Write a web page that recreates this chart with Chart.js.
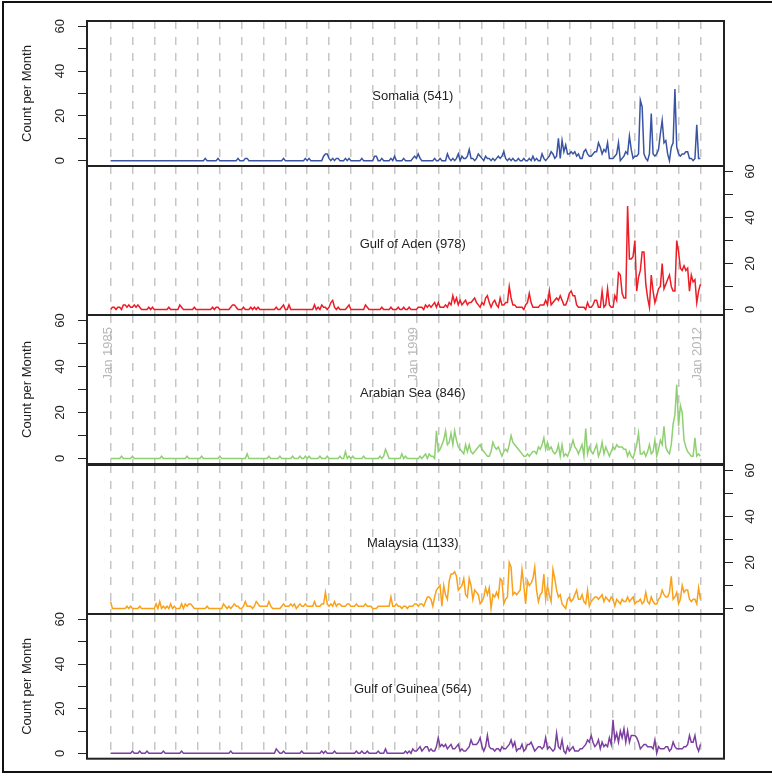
<!DOCTYPE html>
<html>
<head>
<meta charset="utf-8">
<script src="https://cdn.jsdelivr.net/npm/chart.js@4.4.1/dist/chart.umd.min.js"></script>
<style>
  html, body { margin: 0; padding: 0; background: #fff; overflow: hidden; }
  #wrap { position: relative; width: 772px; height: 777px; overflow: hidden; }
  #wrap canvas { position: absolute; left: 0; top: 0; }
  #frame { position: absolute; left: 2px; top: 1px; width: 900px; height: 772px; border: 2px solid #111; box-sizing: border-box; }
</style>
</head>
<body>
<div id="wrap"><div id="frame"></div></div>
<script>
// monthly counts, Jan 1985 .. Jan 2012 (one row per year)
const somalia = [
  0,0,0,0,0,0,0,0,0,0,0,0,
  0,0,0,0,0,0,0,0,0,0,0,0,
  0,0,0,0,0,0,0,0,0,0,0,0,
  0,0,0,0,0,0,0,0,0,0,0,0,
  0,0,0,0,1,0,0,0,0,0,0,1,
  0,0,0,0,0,0,0,0,0,0,1,0,
  0,0,1,1,0,0,0,0,0,0,0,0,
  0,0,0,0,0,0,0,0,0,0,0,1,
  0,0,0,0,0,0,0,0,0,0,0,1,
  0,1,0,0,0,0,0,0,0,2,3,3,
  1,0,1,0,1,1,0,0,0,1,0,1,
  0,0,0,0,0,0,1,0,0,0,0,0,
  0,2,2,0,0,1,0,0,0,0,1,0,
  2,0,0,0,0,1,0,0,0,0,1,2,
  1,3,1,0,0,0,0,0,0,0,1,0,
  0,1,0,0,0,3,1,0,1,0,1,3,
  0,2,1,1,2,5,1,1,0,1,3,2,
  1,0,2,1,1,0,1,0,1,2,1,2,
  4,1,0,1,0,1,0,0,1,0,0,1,
  0,0,1,0,2,0,1,0,0,3,1,0,
  1,2,4,3,1,2,10,1,9,4,7,3,
  3,4,3,4,2,3,1,1,4,5,3,2,
  2,3,4,4,8,6,3,5,4,8,1,1,
  1,2,3,8,0,1,2,4,3,11,5,1,
  2,2,3,27,24,3,1,0,3,21,3,2,
  3,5,12,18,8,9,3,0,6,8,32,6,
  3,2,3,3,4,4,1,1,0,1,16,1,
  1
];

const gulfOfAden = [
  0,1,1,0,1,1,0,2,2,1,2,1,
  1,2,1,2,1,0,0,0,0,1,0,1,
  0,0,0,0,0,0,0,0,1,0,0,0,
  0,0,2,1,0,0,0,0,0,0,1,0,
  0,0,0,0,0,0,0,0,1,0,1,1,
  0,0,0,0,0,0,1,2,2,1,0,0,
  0,1,0,0,0,1,0,1,0,1,0,0,
  0,0,0,0,0,0,0,1,0,0,1,2,
  0,0,2,0,0,0,0,0,0,0,0,0,
  0,0,0,0,2,0,1,0,2,1,1,0,
  1,3,4,1,0,1,0,0,0,0,1,2,
  0,0,0,0,0,0,0,0,2,1,0,0,
  0,0,0,0,0,1,0,0,0,0,1,0,
  0,0,1,0,0,1,0,0,1,0,0,0,
  0,1,1,1,0,2,1,2,1,2,3,1,
  3,1,1,1,2,1,3,2,6,3,5,2,
  4,2,3,4,2,3,3,4,5,3,2,1,
  3,2,5,6,3,1,3,4,2,1,5,2,
  2,3,3,10,5,2,2,1,1,1,1,0,
  2,3,7,3,1,1,1,1,2,2,2,4,
  2,8,2,3,4,5,4,6,4,2,2,4,
  7,8,6,6,2,1,1,1,1,0,3,1,
  1,2,4,4,1,1,8,1,2,9,2,1,
  1,6,4,16,15,7,5,5,45,22,22,23,
  30,8,14,17,25,25,11,5,1,15,8,3,
  6,9,10,20,9,11,13,15,10,8,8,30,
  25,18,17,19,17,18,8,15,12,13,3,8,
  11
];

const arabianSea = [
  0,0,0,0,0,0,1,0,0,0,0,0,
  1,0,0,0,0,0,0,0,0,0,0,0,
  0,0,0,0,1,0,0,0,0,0,0,0,
  0,0,0,0,0,0,1,0,0,0,0,0,
  0,0,1,0,0,0,0,0,0,0,0,0,
  1,0,0,0,0,0,0,0,0,0,0,0,
  0,0,0,2,0,0,0,0,0,0,0,0,
  0,0,0,1,0,0,0,0,0,1,0,0,
  0,0,0,0,1,0,0,0,1,0,0,1,
  0,1,0,0,0,0,0,1,0,0,0,1,
  0,0,0,0,0,0,1,0,0,3,0,1,
  0,1,0,0,0,0,0,1,0,0,0,0,
  0,0,0,0,1,0,1,4,2,0,0,0,
  0,0,0,0,2,0,1,0,0,0,0,0,
  0,0,1,0,1,2,0,2,1,1,0,12,
  3,4,6,8,12,6,7,11,6,12,8,5,
  4,3,2,6,3,6,3,2,3,4,5,6,
  4,3,2,1,1,3,7,5,4,5,3,1,
  3,4,3,6,10,7,6,5,4,3,2,1,
  1,2,1,2,3,3,2,5,4,6,9,4,
  7,4,5,3,2,3,6,1,6,1,2,1,
  3,5,8,5,4,2,4,6,1,13,2,5,
  3,2,4,6,1,3,7,2,5,3,1,3,
  5,4,6,5,5,5,4,4,1,3,1,0,
  3,6,11,2,2,3,1,3,6,2,3,8,
  1,4,8,6,14,5,3,2,6,15,19,32,
  14,23,20,8,5,3,2,1,1,9,1,2,
  1
];

const malaysia = [
  3,0,0,0,0,0,0,0,0,1,0,1,
  0,0,0,0,1,0,0,0,0,0,0,0,
  0,2,0,3,0,1,0,1,0,2,0,1,
  0,0,0,2,0,2,1,2,2,1,0,0,
  0,0,0,0,0,1,0,0,0,0,0,0,
  0,0,2,1,0,1,0,1,2,1,1,0,
  0,1,3,1,1,1,0,1,3,2,1,1,
  1,1,1,3,1,0,0,0,0,0,1,2,
  1,1,1,2,1,2,0,1,2,1,1,2,
  1,1,1,1,3,1,1,1,2,2,7,2,
  1,2,1,3,1,2,2,1,1,1,2,2,
  1,1,1,2,1,1,1,1,2,1,1,1,
  0,0,0,1,1,1,1,1,1,1,5,1,
  1,2,1,1,0,1,1,0,1,1,1,2,
  2,1,2,2,1,3,5,5,4,1,5,8,
  9,10,1,10,6,4,12,15,15,16,14,8,
  9,10,13,6,5,13,10,4,8,7,6,2,
  3,5,9,6,9,0,6,5,7,5,13,12,
  2,4,5,20,18,6,7,6,7,8,17,10,
  2,12,10,11,13,18,8,3,6,7,15,4,
  10,6,3,17,13,8,5,6,2,1,0,4,
  5,3,4,6,8,4,4,6,3,2,8,1,
  3,4,5,5,4,5,6,3,5,4,3,5,
  4,1,4,3,2,4,3,3,5,3,4,5,
  2,3,3,4,2,3,7,3,2,5,3,2,
  2,4,5,8,6,5,5,7,14,4,5,7,
  2,4,10,7,8,8,4,3,4,4,2,9,
  4
];

const gulfOfGuinea = [
  0,0,0,0,0,0,0,0,0,0,0,0,
  1,0,0,0,1,0,0,0,1,0,0,0,
  0,0,0,0,0,1,0,0,0,0,0,0,
  0,0,0,1,0,0,0,0,0,0,0,0,
  0,0,0,0,0,0,0,0,0,0,0,0,
  0,0,0,0,0,0,1,0,0,0,0,0,
  0,0,0,0,0,0,0,0,0,0,0,0,
  0,0,0,0,0,0,0,2,1,0,0,1,
  0,0,0,0,0,0,0,0,0,1,0,0,
  0,0,0,0,0,0,0,0,1,0,1,0,
  0,0,0,1,0,0,0,0,0,0,0,0,
  0,0,0,1,0,0,1,0,0,1,0,0,
  0,0,0,1,0,0,0,2,0,0,0,0,
  0,0,0,0,0,0,1,0,1,0,2,1,
  1,2,3,1,2,3,3,1,2,1,1,3,
  7,3,4,3,4,2,3,4,2,2,3,4,
  1,2,1,1,2,3,6,4,4,4,5,7,
  3,1,3,8,3,2,2,1,2,2,1,3,
  2,2,3,4,6,3,5,1,2,2,4,1,
  2,4,4,5,3,1,2,3,3,2,3,7,
  2,3,2,1,2,9,3,2,6,1,0,3,
  1,2,3,1,1,1,2,2,3,4,6,5,
  8,5,3,4,6,2,5,3,4,3,7,4,
  15,6,9,5,10,7,11,5,10,5,8,8,
  8,7,5,2,3,4,4,3,3,3,2,6,
  0,3,2,2,2,3,3,1,2,5,3,2,
  2,2,2,3,3,4,8,5,5,8,3,1,
  4
];

// January of every year, in months since Jan 1985
const yearTicks = [0,12,24,36,48,60,72,84,96,108,120,132,144,156,168,180,192,204,216,228,240,252,264,276,288,300,312,324];
const yTicks = [0, 10, 20, 30, 40, 50, 60];
const yLabels = [0, 20, 40, 60];
const dateLabels = ['Jan 1985', 'Jan 1999', 'Jan 2012'];
const dateMonths = [0, 168, 324];

const FONT = '"Liberation Sans", Arial, Helvetica, sans-serif';
const W = 772, H = 777;

const panels = [
  { label: 'Somalia (541)',        data: somalia,      color: '#3a54a4', side: 'left',  top: 21,  bottom: 166 },
  { label: 'Gulf of Aden (978)',   data: gulfOfAden,   color: '#ee1c25', side: 'right', top: 166, bottom: 315 },
  { label: 'Arabian Sea (846)',    data: arabianSea,   color: '#8fd072', side: 'left',  top: 315, bottom: 464, dates: true },
  { label: 'Malaysia (1133)',      data: malaysia,     color: '#f9a11b', side: 'right', top: 465, bottom: 614 },
  { label: 'Gulf of Guinea (564)', data: gulfOfGuinea, color: '#7b3f9e', side: 'left',  top: 614, bottom: 759 }
];

const panelDecor = {
  id: 'panelDecor',
  afterDatasetsDraw(chart, args, opts) {
    const { ctx, chartArea: a, scales } = chart;
    ctx.save();
    ctx.strokeStyle = '#222';
    ctx.lineWidth = 2;
    ctx.strokeRect(a.left, a.top, a.right - a.left, a.bottom - a.top);

    ctx.fillStyle = '#222';
    ctx.font = '13px ' + FONT;
    ctx.textAlign = 'center';
    ctx.textBaseline = 'middle';
    ctx.fillText(opts.label, scales.x.getPixelForValue(166), scales.y.getPixelForValue(28.5));

    if (opts.dates) {
      ctx.fillStyle = '#b8b8b8';
      ctx.textAlign = 'right';
      ctx.textBaseline = 'alphabetic';
      dateLabels.forEach((t, i) => {
        ctx.save();
        ctx.translate(scales.x.getPixelForValue(dateMonths[i]) + 1, a.top + 12);
        ctx.rotate(-Math.PI / 2);
        ctx.fillText(t, 0, 0);
        ctx.restore();
      });
    }
    ctx.restore();
  }
};

const wrap = document.getElementById('wrap');

panels.forEach(p => {
  const canvas = document.createElement('canvas');
  canvas.width = W;
  canvas.height = H;
  wrap.appendChild(canvas);

  const left = p.side === 'left';

  new Chart(canvas.getContext('2d'), {
    type: 'line',
    data: {
      datasets: [{
        data: p.data.map((v, i) => ({ x: i, y: v })),
        borderColor: p.color,
        borderWidth: 1.5,
        pointRadius: 0,
        tension: 0,
        fill: false
      }]
    },
    options: {
      responsive: false,
      animation: false,
      devicePixelRatio: 1,
      events: [],
      layout: {
        padding: { left: left ? 0 : 87, right: left ? 48 : 0, top: p.top, bottom: H - p.bottom }
      },
      plugins: {
        legend: { display: false },
        tooltip: { enabled: false },
        panelDecor: { label: p.label, dates: !!p.dates }
      },
      scales: {
        x: {
          type: 'linear',
          min: -12.96,
          max: 336.96,
          afterBuildTicks: s => { s.ticks = yearTicks.map(v => ({ value: v })); },
          afterFit: s => { s.height = 0; },
          ticks: { display: false },
          grid: { color: '#c6c6c6', lineWidth: 1.5, drawTicks: false },
          border: { display: false, dash: [8, 8] }
        },
        y: {
          position: p.side,
          min: -2.4,
          max: 62.4,
          afterBuildTicks: s => { s.ticks = yTicks.map(v => ({ value: v })); },
          afterFit: s => { s.width = left ? 87 : 48; },
          ticks: {
            autoSkip: false,
            minRotation: 90,
            maxRotation: 90,
            crossAlign: 'center',
            padding: 10.5,
            color: '#222',
            font: { family: FONT, size: 13 },
            callback: v => yLabels.includes(v) ? String(v) : ''
          },
          grid: { drawOnChartArea: false, drawTicks: true, tickLength: 9, tickColor: '#222', tickWidth: 1 },
          border: { display: false },
          title: {
            display: left,
            text: 'Count per Month',
            color: '#222',
            font: { family: FONT, size: 13 },
            padding: { top: 20, bottom: 0 }
          }
        }
      }
    },
    plugins: [panelDecor]
  });
});
</script>
</body>
</html>
